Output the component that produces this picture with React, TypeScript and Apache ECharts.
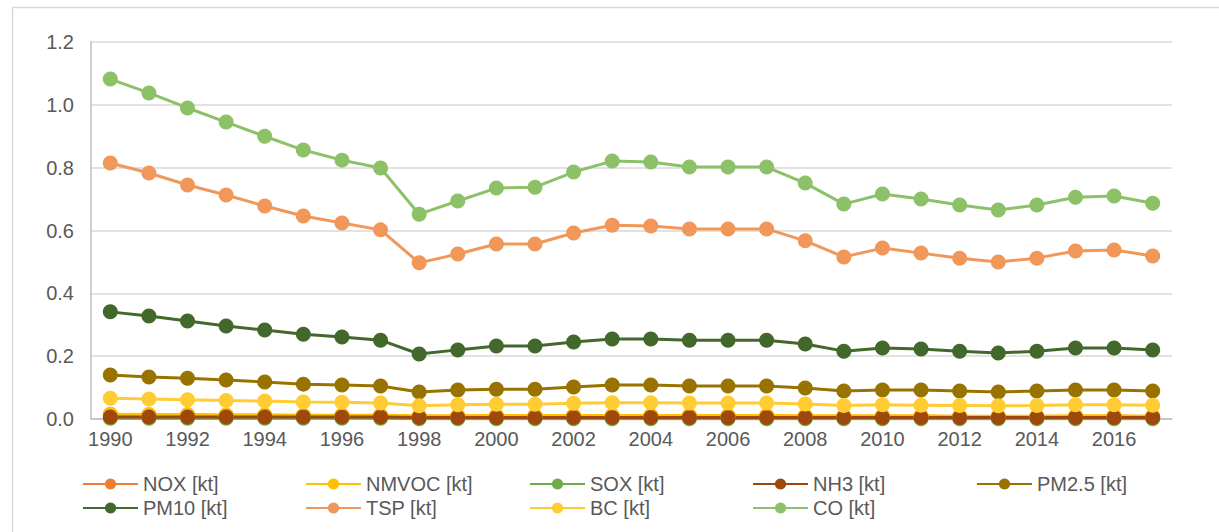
import React, { useEffect, useRef } from "react";
import * as echarts from "echarts";

const years = [
  "1990","1991","1992","1993","1994","1995","1996","1997","1998","1999",
  "2000","2001","2002","2003","2004","2005","2006","2007","2008","2009",
  "2010","2011","2012","2013","2014","2015","2016","2017",
];

const nox = [0.014,0.013,0.013,0.012,0.012,0.011,0.011,0.011,0.009,0.009,0.01,0.01,0.01,0.01,0.01,0.01,0.01,0.01,0.009,0.009,0.009,0.009,0.008,0.008,0.008,0.009,0.009,0.008];
const nmvoc = [0.015,0.014,0.014,0.013,0.013,0.012,0.012,0.012,0.01,0.01,0.011,0.011,0.011,0.011,0.011,0.011,0.011,0.011,0.01,0.01,0.01,0.01,0.009,0.009,0.009,0.01,0.01,0.009];
const sox = [0.002,0.002,0.002,0.002,0.002,0.002,0.002,0.002,0.001,0.001,0.001,0.001,0.001,0.001,0.001,0.001,0.001,0.001,0.001,0.001,0.001,0.001,0.001,0.001,0.001,0.001,0.001,0.001];
const nh3 = [0.006,0.006,0.006,0.006,0.006,0.006,0.006,0.006,0.005,0.005,0.005,0.005,0.005,0.005,0.005,0.005,0.005,0.005,0.005,0.005,0.005,0.005,0.005,0.005,0.005,0.005,0.005,0.005];
const pm25 = [0.14,0.134,0.13,0.124,0.118,0.111,0.108,0.105,0.086,0.092,0.095,0.095,0.102,0.108,0.108,0.105,0.105,0.105,0.099,0.089,0.092,0.092,0.089,0.086,0.089,0.092,0.092,0.089];
const pm10 = [0.341,0.328,0.312,0.296,0.283,0.27,0.261,0.251,0.207,0.22,0.232,0.232,0.245,0.255,0.255,0.251,0.251,0.251,0.239,0.216,0.226,0.223,0.216,0.21,0.216,0.226,0.226,0.22];
const tsp = [0.815,0.783,0.745,0.713,0.678,0.646,0.624,0.602,0.497,0.525,0.557,0.557,0.592,0.617,0.614,0.605,0.605,0.605,0.567,0.516,0.544,0.528,0.512,0.5,0.512,0.535,0.538,0.519];
const bc = [0.066,0.064,0.061,0.059,0.057,0.054,0.053,0.051,0.042,0.045,0.047,0.047,0.05,0.052,0.052,0.051,0.051,0.051,0.048,0.043,0.045,0.044,0.043,0.042,0.043,0.045,0.045,0.044];
const co = [1.082,1.038,0.99,0.945,0.9,0.856,0.824,0.799,0.652,0.694,0.735,0.738,0.786,0.821,0.818,0.802,0.802,0.802,0.751,0.684,0.716,0.7,0.681,0.665,0.681,0.706,0.71,0.687];

const seriesNames = ["NOX [kt]","NMVOC [kt]","SOX [kt]","NH3 [kt]","PM2.5 [kt]","PM10 [kt]","TSP [kt]","BC [kt]","CO [kt]"];
const seriesData = [nox, nmvoc, sox, nh3, pm25, pm10, tsp, bc, co];
const seriesColors = ["#ED7D31","#FFC000","#70AD47","#9E480E","#997300","#43682B","#F1975A","#FFCD33","#8CC168"];

const FONT = "Liberation Sans";

export default function App() {
  const ref = useRef<HTMLDivElement>(null);
  useEffect(() => {
    if (!ref.current) return;
    const chart = echarts.init(ref.current, undefined, { renderer: "svg" });
    const legendPos = [
      [82, 474],[305, 474],[529, 474],[752, 474],[976, 474],
      [82, 498],[305, 498],[529, 498],[752, 498],
    ];
    chart.setOption({
      animation: false,
      backgroundColor: "#ffffff",
      textStyle: { fontFamily: FONT },
      graphic: [
        {
          type: "rect",
          left: 10,
          top: 5,
          shape: { width: 1240, height: 560 },
          style: { fill: "none", stroke: "#d9d9d9", lineWidth: 1.5 },
          silent: true,
        },
      ],
      grid: { left: 91, right: 47, top: 42, bottom: 113, containLabel: false },
      legend: seriesNames.map((n, i) => ({
        data: [n],
        left: legendPos[i][0],
        top: legendPos[i][1],
        padding: 0,
        itemWidth: 55,
        itemHeight: 14,
        itemGap: 4,
        textStyle: { fontFamily: FONT, fontSize: 20, color: "#595959" },
      })),
      xAxis: {
        type: "category",
        data: years,
        boundaryGap: true,
        axisLine: { show: true, lineStyle: { color: "#bfbfbf", width: 1.5 } },
        axisTick: { show: false },
        axisLabel: {
          interval: 1,
          fontFamily: FONT,
          fontSize: 20,
          color: "#595959",
          margin: 10,
        },
        splitLine: { show: false },
      },
      yAxis: {
        type: "value",
        min: 0,
        max: 1.2,
        interval: 0.2,
        axisLine: { show: true, lineStyle: { color: "#bfbfbf", width: 1.5 } },
        axisTick: { show: false },
        axisLabel: {
          fontFamily: FONT,
          fontSize: 20,
          color: "#595959",
          margin: 17,
          formatter: (v: number) => v.toFixed(1),
        },
        splitLine: { show: true, lineStyle: { color: "#d9d9d9", width: 1.5 } },
      },
      series: seriesNames.map((n, i) => ({
        name: n,
        type: "line",
        data: seriesData[i],
        symbol: "circle",
        symbolSize: 15,
        showSymbol: true,
        lineStyle: { color: seriesColors[i], width: 3 },
        itemStyle: { color: seriesColors[i] },
        emphasis: { disabled: true },
      })),
    });
    return () => chart.dispose();
  }, []);
  return (
    <div
      ref={ref}
      style={{ position: "fixed", left: 0, top: 0, width: 1219, height: 532 }}
    />
  );
}
